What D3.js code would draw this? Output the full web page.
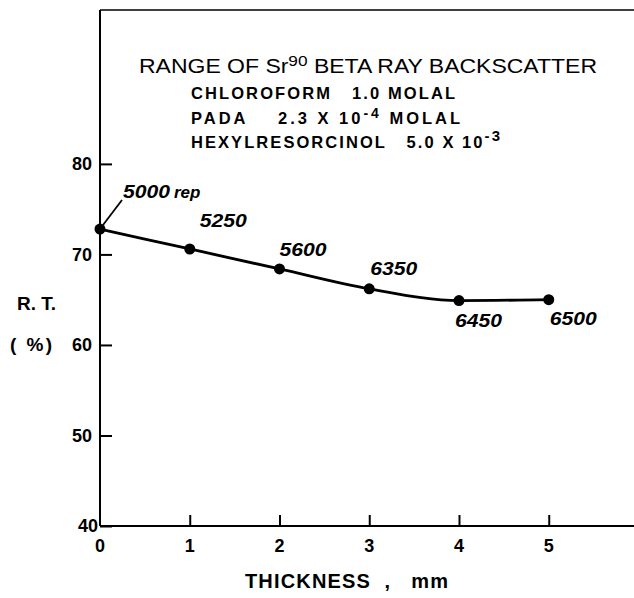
<!DOCTYPE html>
<html>
<head>
<meta charset="utf-8">
<script src="https://cdn.jsdelivr.net/npm/d3@7"></script>
<style>
  body { margin: 0; background: #fff; }
  svg { display: block; }
  text { fill: #000; font-family: "Liberation Sans", Arial, sans-serif; }
</style>
</head>
<body>
<svg id="chart" width="634" height="598"></svg>
<script>
// data
const thickness = [0, 1, 2, 3, 4, 5];           // mm
const rtPercent = [72.8, 70.6, 68.4, 66.2, 64.9, 65.0];
const doseLabels = ["5000", "5250", "5600", "6350", "6450", "6500"];
const xTicks = [0, 1, 2, 3, 4, 5];
const yTicks = [40, 50, 60, 70, 80];

// label placement relative to each point (px)
const labelOffsets = [[23, -31], [10, -22], [0, -13], [1, -14], [-4, 26], [1, 25]];

const svg = d3.select("#chart");
const margin = { top: 10, right: 0, bottom: 72, left: 100 };
const width = 634, height = 598;

const x = d3.scaleLinear().domain([0, 5.95]).range([margin.left, width - margin.right]);
const y = d3.scaleLinear().domain([40, 97]).range([height - margin.bottom, margin.top]);

// frame: top line + left axis + bottom axis (right side open)
svg.append("line")
  .attr("x1", x(0)).attr("x2", width).attr("y1", y(97)).attr("y2", y(97))
  .attr("stroke", "#000").attr("stroke-width", 1.5);

// y axis with inward ticks
const yAxis = svg.append("g")
  .attr("transform", `translate(${x(0)},0)`)
  .call(d3.axisRight(y).tickValues(yTicks).tickSize(12).tickFormat(""));
yAxis.select(".domain").attr("d", `M0,${y(97)}V${y(40)}`).attr("stroke-width", 2);
yAxis.selectAll(".tick line").attr("stroke-width", 2);

svg.append("g").selectAll("text")
  .data(yTicks)
  .join("text")
  .attr("x", d => d === 40 ? x(0) - 2 : x(0) - 8)
  .attr("y", d => y(d))
  .attr("dy", "0.36em")
  .attr("text-anchor", "end")
  .attr("font-size", 18)
  .attr("font-weight", "bold")
  .text(d => d);

// x axis with inward ticks
const xAxis = svg.append("g")
  .attr("transform", `translate(0,${y(40)})`)
  .call(d3.axisTop(x).tickValues(xTicks.filter(d => d > 0)).tickSize(11).tickFormat(""));
xAxis.select(".domain").attr("d", `M${x(0)},0H${width}`).attr("stroke-width", 2);
xAxis.selectAll(".tick line").attr("stroke-width", 2);

svg.append("g").selectAll("text")
  .data(xTicks)
  .join("text")
  .attr("x", d => x(d))
  .attr("y", y(40) + 26)
  .attr("text-anchor", "middle")
  .attr("font-size", 18)
  .attr("font-weight", "bold")
  .text(d => d);

// axis titles
svg.append("text")
  .attr("x", 245).attr("y", 588)
  .attr("font-size", 20).attr("font-weight", "bold")
  .attr("textLength", 203).attr("lengthAdjust", "spacing")
  .attr("xml:space", "preserve")
  .text("THICKNESS  ,   mm");

svg.append("text")
  .attr("x", 17).attr("y", 310)
  .attr("font-size", 19).attr("font-weight", "bold")
  .attr("textLength", 39).attr("lengthAdjust", "spacingAndGlyphs")
  .text("R. T.");

svg.append("text")
  .attr("x", 10).attr("y", 351)
  .attr("font-size", 19).attr("font-weight", "bold")
  .attr("textLength", 42).attr("lengthAdjust", "spacing")
  .attr("xml:space", "preserve")
  .text("( %)");

// title block
const t1 = svg.append("text")
  .attr("x", 139).attr("y", 73)
  .attr("font-size", 20)
  .attr("textLength", 458).attr("lengthAdjust", "spacingAndGlyphs");
t1.append("tspan").text("RANGE OF Sr");
t1.append("tspan").attr("dy", -7).attr("font-size", 15).text("90");
t1.append("tspan").attr("dy", 7).text(" BETA RAY BACKSCATTER");

const sub = svg.append("g")
  .attr("font-size", 16.5)
  .attr("font-weight", "bold");

sub.append("text")
  .attr("x", 191).attr("y", 99)
  .attr("textLength", 264).attr("lengthAdjust", "spacing")
  .attr("xml:space", "preserve")
  .text("CHLOROFORM   1.0 MOLAL");

const s2 = sub.append("text")
  .attr("x", 191).attr("y", 124)
  .attr("textLength", 269).attr("lengthAdjust", "spacing")
  .attr("xml:space", "preserve");
s2.append("tspan").text("PADA    2.3 X 10");
s2.append("tspan").attr("dy", -6).attr("font-size", 14).text("-4");
s2.append("tspan").attr("dy", 6).text(" MOLAL");

const s3 = sub.append("text")
  .attr("x", 191).attr("y", 148)
  .attr("textLength", 309).attr("lengthAdjust", "spacing")
  .attr("xml:space", "preserve");
s3.append("tspan").text("HEXYLRESORCINOL   5.0 X 10");
s3.append("tspan").attr("dy", -7).attr("font-size", 15).text("-3");

// curve and points
const pts = thickness.map((d, i) => ({ t: d, v: rtPercent[i], lab: doseLabels[i], off: labelOffsets[i] }));

svg.append("path")
  .datum(pts)
  .attr("fill", "none")
  .attr("stroke", "#000")
  .attr("stroke-width", 2.8)
  .attr("d", d3.line().x(d => x(d.t)).y(d => y(d.v)).curve(d3.curveMonotoneX));

svg.append("g").selectAll("circle")
  .data(pts)
  .join("circle")
  .attr("cx", d => x(d.t))
  .attr("cy", d => y(d.v))
  .attr("r", 5.5)
  .attr("fill", "#000");

// leader line for first label
svg.append("line")
  .attr("x1", x(0) + 3).attr("y1", y(rtPercent[0]) - 4)
  .attr("x2", x(0) + 22).attr("y2", y(rtPercent[0]) - 29)
  .attr("stroke", "#000").attr("stroke-width", 1.8);

svg.append("g").selectAll("text")
  .data(pts)
  .join("text")
  .attr("x", d => x(d.t) + d.off[0])
  .attr("y", d => y(d.v) + d.off[1])
  .attr("font-size", 18)
  .attr("font-style", "italic")
  .attr("font-weight", "bold")
  .attr("textLength", 47).attr("lengthAdjust", "spacingAndGlyphs")
  .text(d => d.lab);

svg.append("text")
  .attr("x", x(0) + 23 + 51).attr("y", y(rtPercent[0]) - 31)
  .attr("font-size", 17)
  .attr("font-style", "italic")
  .attr("font-weight", "bold")
  .text("rep");
</script>
</body>
</html>
